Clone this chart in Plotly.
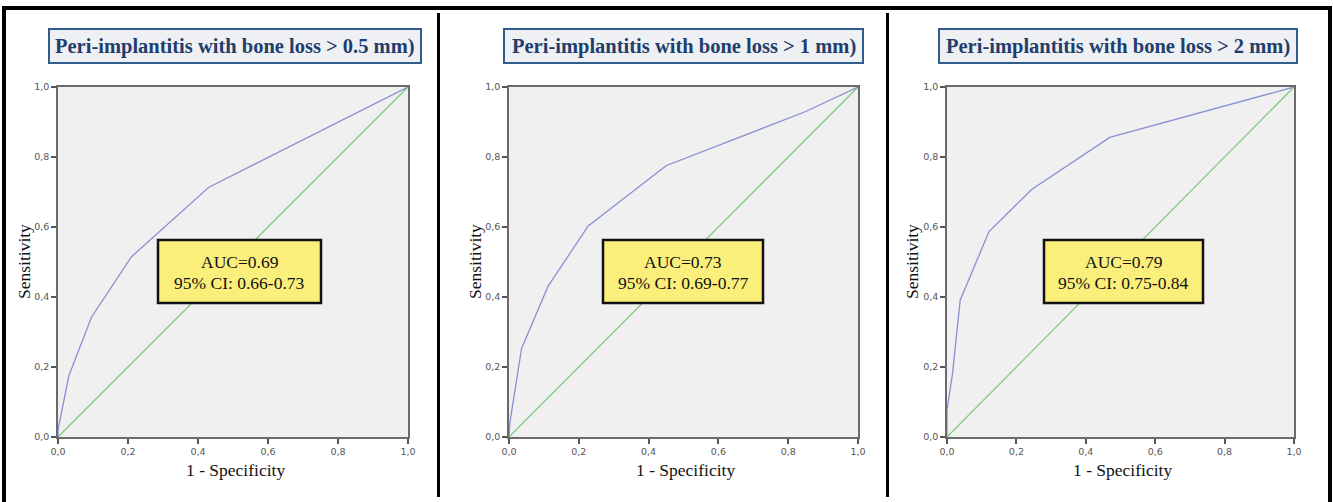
import plotly.graph_objects as go

W, H = 1333, 502

# ---- data ----
titles = ["Peri-implantitis with bone loss > 0.5 mm)",
          "Peri-implantitis with bone loss > 1 mm)",
          "Peri-implantitis with bone loss > 2 mm)"]
auc_text = ["AUC=0.69", "AUC=0.73", "AUC=0.79"]
ci_text = ["95% CI: 0.66-0.73", "95% CI: 0.69-0.77", "95% CI: 0.75-0.84"]

fpr_05 = [0, 0, 0.031, 0.096, 0.21, 0.43, 1]
tpr_05 = [0, 0.02, 0.175, 0.343, 0.515, 0.713, 1]

fpr_1 = [0, 0.003, 0.036, 0.112, 0.227, 0.45, 0.85, 1]
tpr_1 = [0, 0.044, 0.253, 0.431, 0.603, 0.775, 0.93, 1]

fpr_2 = [0, 0, 0.016, 0.038, 0.121, 0.245, 0.469, 1]
tpr_2 = [0, 0.077, 0.182, 0.391, 0.587, 0.708, 0.856, 1]

ref_line = [0, 1]

tick_vals = [0, 0.2, 0.4, 0.6, 0.8, 1.0]
tick_text = ["0,0", "0,2", "0,4", "0,6", "0,8", "1,0"]

x_label = "1 - Specificity"
y_label = "Sensitivity"

curves = [(fpr_05, tpr_05), (fpr_1, tpr_1), (fpr_2, tpr_2)]

# ---- layout helpers (pixel -> paper) ----
def px(x):
    return x / W

def py(y):
    return (H - y) / H

plot_x = [(58, 408), (509, 858), (947, 1294)]
plot_top, plot_bot = 87, 437
title_boxes = [(49, 421), (504, 863), (939, 1297)]
auc_boxes = [(158, 321), (603, 763), (1044, 1203)]
ylabel_x = [24, 475, 912]

BLUE = "#8790d4"
GREEN = "#80cc7e"
SERIF = "Liberation Serif, Times New Roman, serif"

fig = go.Figure()
shapes = []
annotations = []

for i, (fx, fy) in enumerate(curves):
    ax = "" if i == 0 else str(i + 1)
    fig.add_trace(go.Scatter(x=ref_line, y=ref_line, mode="lines",
                             line=dict(color=GREEN, width=1.3),
                             xaxis="x" + ax, yaxis="y" + ax,
                             showlegend=False, hoverinfo="skip"))
    fig.add_trace(go.Scatter(x=fx, y=fy, mode="lines",
                             line=dict(color=BLUE, width=1.3),
                             xaxis="x" + ax, yaxis="y" + ax,
                             showlegend=False))
    axis_common = dict(range=[0, 1], tickvals=tick_vals, ticktext=tick_text,
                       showgrid=False, zeroline=False, showline=True,
                       mirror=True, linecolor="#6a6a6a", linewidth=1.5,
                       ticks="outside", ticklen=5, tickwidth=1.5,
                       tickcolor="#555555", automargin=False,
                       tickfont=dict(family="DejaVu Sans", size=9.5,
                                     color="#555555"),
                       fixedrange=True)
    x0, x1 = plot_x[i]
    fig.layout["xaxis" + ax] = dict(domain=[px(x0), px(x1)],
                                    anchor="y" + ax, **axis_common)
    fig.layout["yaxis" + ax] = dict(domain=[py(plot_bot), py(plot_top)],
                                    anchor="x" + ax, **axis_common)

    # title box
    tx0, tx1 = title_boxes[i]
    shapes.append(dict(type="rect", xref="paper", yref="paper",
                       x0=px(tx0), x1=px(tx1), y0=py(63), y1=py(29),
                       fillcolor="#eef0f3",
                       line=dict(color="#2f5d8c", width=2)))
    annotations.append(dict(xref="paper", yref="paper",
                            x=px((tx0 + tx1) / 2), y=py(46),
                            text="<b>" + titles[i] + "</b>", showarrow=False,
                            xanchor="center", yanchor="middle",
                            font=dict(family=SERIF, size=20.5,
                                      color="#1f3e6c")))
    # AUC box
    bx0, bx1 = auc_boxes[i]
    shapes.append(dict(type="rect", xref="paper", yref="paper",
                       x0=px(bx0), x1=px(bx1), y0=py(303), y1=py(240),
                       fillcolor="#fbef7c",
                       line=dict(color="#111111", width=2.5)))
    annotations.append(dict(xref="paper", yref="paper",
                            x=px((bx0 + bx1) / 2), y=py(262),
                            text=auc_text[i], showarrow=False,
                            xanchor="center", yanchor="middle",
                            font=dict(family=SERIF, size=17.5,
                                      color="#111111")))
    annotations.append(dict(xref="paper", yref="paper",
                            x=px((bx0 + bx1) / 2), y=py(283),
                            text=ci_text[i], showarrow=False,
                            xanchor="center", yanchor="middle",
                            font=dict(family=SERIF, size=17.5,
                                      color="#111111")))
    # axis titles
    annotations.append(dict(xref="paper", yref="paper",
                            x=px((x0 + x1) / 2 + 2), y=py(470),
                            text=x_label, showarrow=False,
                            xanchor="center", yanchor="middle",
                            font=dict(family=SERIF, size=17.5,
                                      color="#111111")))
    annotations.append(dict(xref="paper", yref="paper",
                            x=px(ylabel_x[i]), y=py(262),
                            text=y_label, showarrow=False, textangle=-90,
                            xanchor="center", yanchor="middle",
                            font=dict(family=SERIF, size=17.5,
                                      color="#111111")))

# outer frame and separators
frame = dict(color="#000000", width=4)
shapes.append(dict(type="line", xref="paper", yref="paper",
                   x0=px(2), x1=px(1332), y0=py(8), y1=py(8), line=frame))
shapes.append(dict(type="line", xref="paper", yref="paper",
                   x0=px(4), x1=px(4), y0=py(7), y1=py(502), line=frame))
shapes.append(dict(type="line", xref="paper", yref="paper",
                   x0=px(1330), x1=px(1330), y0=py(7), y1=py(502), line=frame))
sep = dict(color="#000000", width=3)
for sx in (438.5, 887.5):
    shapes.append(dict(type="line", xref="paper", yref="paper",
                       x0=px(sx), x1=px(sx), y0=py(13), y1=py(497), line=sep))

fig.update_layout(width=W, height=H, margin=dict(l=0, r=0, t=0, b=0),
                  paper_bgcolor="#ffffff", plot_bgcolor="#f0f0f0",
                  shapes=shapes, annotations=annotations,
                  showlegend=False)

fig.write_html("out.html", config={"displayModeBar": False})
